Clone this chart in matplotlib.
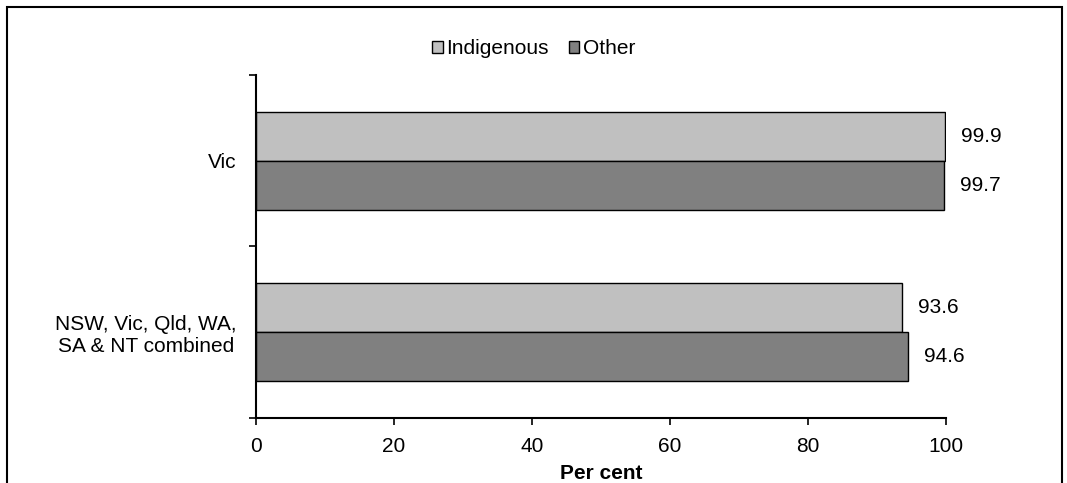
import numpy as np
import matplotlib
matplotlib.use("Agg")
import matplotlib.pyplot as plt
from matplotlib.patches import Rectangle

plt.rcParams['font.family'] = ['Liberation Sans', 'DejaVu Sans']

categories = ["Vic", "NSW, Vic, Qld, WA,\nSA & NT combined"]
indigenous = [99.9, 93.6]
other = [99.7, 94.6]
series_names = ["Indigenous", "Other"]
colors = ["#C0C0C0", "#808080"]
xticks = [0, 20, 40, 60, 80, 100]

fig = plt.figure(figsize=(10.67, 4.83), dpi=100)
ax = fig.add_axes([0.2399, 0.1346, 0.6464, 0.7101])

# figure border (bottom edge runs off the picture)
fig.patches.append(Rectangle((7 / 1067, -0.05), 1055 / 1067, 1.05 - 7 / 483,
                             transform=fig.transFigure, fill=False,
                             edgecolor="black", linewidth=1.5))

centers = np.arange(len(categories)) + 0.5
h = 0.286
b1 = ax.barh(centers - h / 2, indigenous, height=h, color=colors[0],
             edgecolor="black", linewidth=1, label=series_names[0])
b2 = ax.barh(centers + h / 2, other, height=h, color=colors[1],
             edgecolor="black", linewidth=1, label=series_names[1])

for bars, vals in ((b1, indigenous), (b2, other)):
    for bar, v in zip(bars, vals):
        ax.annotate(f"{v:.1f}", (bar.get_width(), bar.get_y() + bar.get_height() / 2),
                    xytext=(11.5, 0), textcoords="offset points",
                    ha="left", va="center", fontsize=15)

ax.set_xlim(0, 100)
ax.set_ylim(len(categories), 0)
ax.set_xticks(xticks)
ax.set_xticklabels([str(t) for t in xticks], fontsize=15)
ax.set_yticks(np.arange(len(categories) + 1))
ax.set_yticklabels([])
ax.set_yticks(centers, minor=True)
ax.set_yticklabels(categories, minor=True, fontsize=15, multialignment="center")
ax.tick_params(axis="y", which="minor", length=0, pad=14)
ax.tick_params(axis="y", which="major", length=5, width=1.2)
ax.tick_params(axis="x", length=5, width=1.2, pad=9)
ax.set_xlabel("Per cent", fontsize=15, fontweight="bold", labelpad=5.5)

for s in ("top", "right"):
    ax.spines[s].set_visible(False)
for s in ("left", "bottom"):
    ax.spines[s].set_linewidth(1.5)

fig.legend(handles=[b1, b2], loc="center", bbox_to_anchor=(0.5, 0.899),
           ncol=2, frameon=False, fontsize=15, handlelength=0.5,
           handleheight=0.5, handletextpad=0.15, columnspacing=1.0,
           borderaxespad=0)

fig.savefig("out.png", dpi=100)
